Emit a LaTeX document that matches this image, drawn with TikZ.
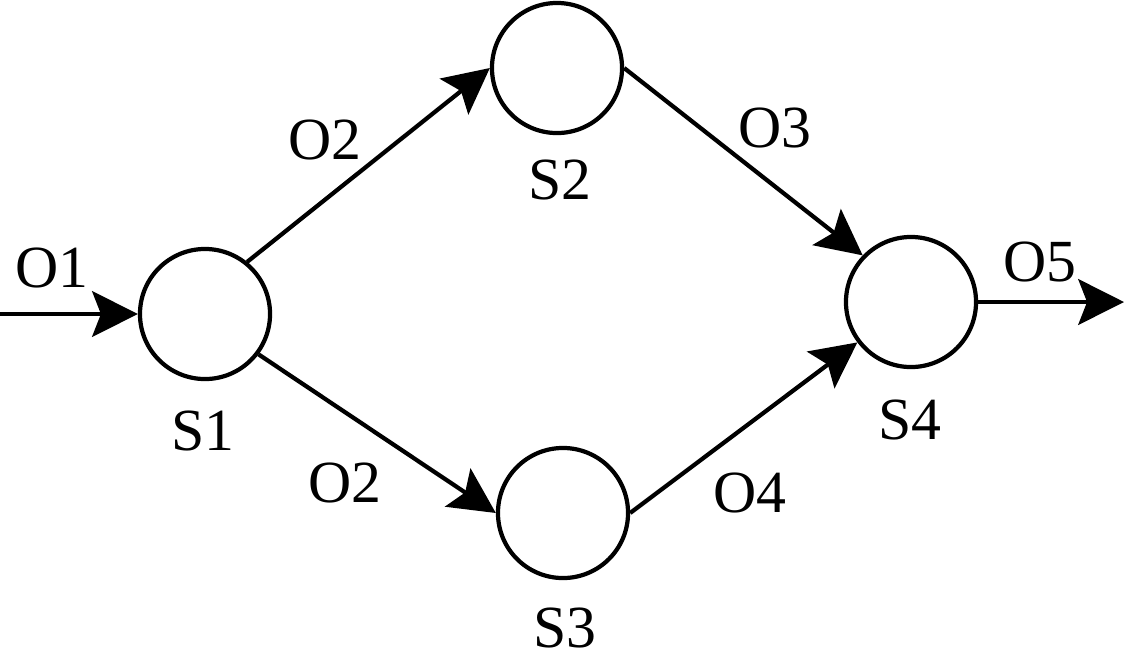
\documentclass[tikz,border=0pt]{standalone}
\usepackage{fontspec}
\setmainfont{Liberation Serif}
\usetikzlibrary{arrows.meta}

\begin{document}
\begin{tikzpicture}[x=0.01cm,y=-0.01cm,
        state/.style={draw, circle, line width=1.2pt, minimum size=1.3cm, inner sep=0pt},
        lbl/.style={font=\fontsize{17}{20}\selectfont},
        flow/.style={line width=1.2pt, -{Stealth[length=13pt,width=13pt,inset=2.5pt]}}]
        \useasboundingbox (0,0) rectangle (1124,666);

        \node[state] (s1) at (205,314) {};
        \node[state] (s2) at (557,68) {};
        \node[state] (s3) at (563,513) {};
        \node[state] (s4) at (911,302) {};

        \coordinate (in) at (0,314);
        \coordinate (out) at (1124,302);

        \draw[flow] (in) -- (s1.west);
        \draw[flow] (s1.51) -- (s2.west);
        \draw[flow] (s1.-37) -- (s3.west);
        \draw[flow] (s2.east) -- (s4.136);
        \draw[flow] (s3.east) -- (s4.217);
        \draw[flow] (s4.east) -- (out);

        \node[lbl] (ls1) at (203,431) {S1};
        \node[lbl] (ls2) at (560,180) {S2};
        \node[lbl] (ls3) at (565,628) {S3};
        \node[lbl] (ls4) at (910,420) {S4};

        \node[lbl] (lo1) at (52,268) {O1};
        \node[lbl] (lo2a) at (325,140) {O2};
        \node[lbl] (lo2b) at (345,483) {O2};
        \node[lbl] (lo3) at (775,128) {O3};
        \node[lbl] (lo4) at (750,493) {O4};
        \node[lbl] (lo5) at (1040,262) {O5};

    \end{tikzpicture}
\end{document}
